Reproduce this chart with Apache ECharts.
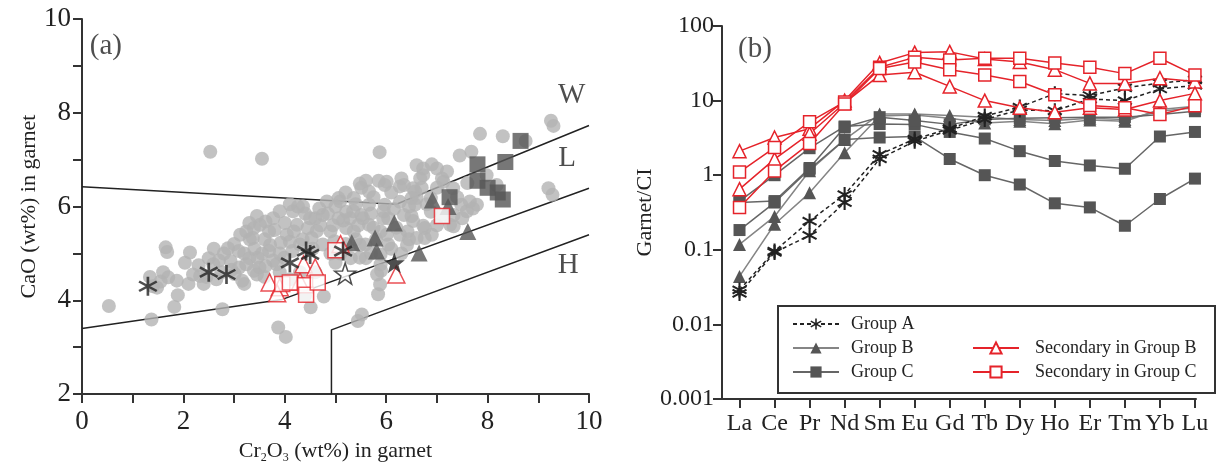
<!DOCTYPE html>
<html>
<head>
<meta charset="utf-8">
<script src="https://cdn.jsdelivr.net/npm/echarts@6.0.0/dist/echarts.min.js"></script>
<style>html,body{margin:0;padding:0;background:#fff;}#c{width:1221px;height:469px;}</style>
</head>
<body>
<div id="c"></div>
<script>
// ---------- Panel (a): CaO vs Cr2O3 ----------
const grayPts = [
[0.53,3.88],[1.37,3.59],[2.53,7.17],[3.55,7.02],[5.87,7.16],[3.87,3.42],[4.02,3.22],[4.51,3.85],[4.77,4.08],[5.44,3.56],[5.52,3.7],[2.77,3.81],[1.82,3.86],
[9.25,7.83],[9.3,7.72],[7.85,7.55],[8.3,7.5],[8.75,7.4],[7.45,7.09],[7.68,7.17],[9.2,6.39],[9.28,6.25],
[1.65,5.13],[1.68,5.03],[2.13,5.02],[2.6,5.1],[2.88,5.11],[2.03,4.8],[1.34,4.5],[1.4,4.3],[1.48,4.27],[1.7,4.49],[1.87,4.42],[1.89,4.11],[2.19,4.55],[2.33,4.52],
[2.45,4.5],[2.65,4.45],[2.75,4.6],[2.95,4.65],[3.1,4.7],[3.3,4.9],[3.2,4.35],[3.5,4.7],[3.55,5.0],
[2.59,4.77],[2.93,4.84],[3.09,5.05],[3.12,5.4],[3.24,5.47],[3.39,5.54],[3.31,5.3],[3.51,5.61],[3.62,5.68],[3.77,5.75],[3.69,5.47],[3.37,5.33],[3.71,5.18],
[3.92,5.23],[4.04,5.4],[4.16,5.9],[4.24,5.61],[4.26,6.0],[4.36,6.0],[4.18,5.47],[3.69,5.05],[3.46,4.91],[3.77,4.85],[3.24,4.77],[3.01,4.56],[3.16,4.42],
[3.45,4.55],[3.39,4.63],[3.62,4.73],[3.84,4.77],[3.99,4.91],[4.15,5.05],[4.3,5.19],[4.53,5.33],[4.45,5.54],[4.5,5.75],[4.6,5.75],[4.63,5.48],[4.68,5.96],
[4.75,5.82],[4.83,6.11],[5.06,6.18],[5.09,6.11],[5.21,5.89],[5.06,5.75],[4.9,5.47],[4.75,5.19],[4.98,5.26],[5.29,5.75],[5.36,6.18],[5.48,6.49],[5.51,6.4],
[5.66,6.32],[5.54,5.75],[5.94,5.75],[5.97,6.46],[6.01,6.53],[6.27,6.43],[6.35,6.46],[6.53,6.39],[6.57,6.32],[6.6,6.88],[6.73,6.67],[6.73,6.81],[7.0,6.81],
[6.67,6.6],[7.13,6.53],[7.32,6.39],[7.1,6.6],[7.98,6.67],[8.18,6.46],[6.6,6.18],[7.65,6.11],[7.59,5.9],[7.79,6.04],[7.48,6.04],[7.71,5.96],[6.53,5.69],
[6.73,5.59],[7.26,5.61],[7.33,5.58],[6.6,5.33],[6.76,5.33],[6.76,5.54],[7.33,5.82],[7.1,5.82],[6.88,5.89],[6.57,6.04],[6.27,6.1],[5.97,6.04],[5.66,6.04],
[5.51,5.82],[5.66,5.61],[5.89,5.47],[6.04,5.75],[6.35,5.82],[6.42,5.47],[6.27,5.4],[6.01,5.4],[6.41,5.18],[6.04,5.19],[5.59,5.19],[5.48,5.18],[5.36,5.47],
[5.21,5.54],[6.5,6.18],[6.88,6.18],[5.48,4.91],[5.82,4.55],[5.88,4.34],[5.84,4.13],[5.9,4.63],[5.89,4.77],[5.89,4.98],[4.4,4.1],[5.0,4.8],[5.3,4.9],
[5.6,4.9],[5.7,5.0],[5.2,5.2],[4.6,4.6],[4.3,4.6],[4.1,4.45],
[3.0,5.2],[3.2,5.0],[3.4,5.1],[3.6,5.3],[3.8,5.5],[3.9,5.0],[4.0,5.65],[4.1,5.25],[4.35,5.3],[4.4,5.85],[4.55,5.1],[4.7,5.6],[4.85,5.85],[4.95,5.6],
[5.0,6.0],[5.15,5.7],[5.2,6.3],[5.35,5.9],[5.4,6.05],[5.45,5.6],[5.6,6.55],[5.7,5.85],[5.75,6.2],[5.8,5.3],[5.85,6.55],[5.95,5.9],[6.1,6.3],[6.15,5.95],
[6.2,5.55],[6.3,6.6],[6.45,6.0],[6.5,5.8],[6.7,6.4],[6.8,6.05],[6.9,6.9],[7.0,6.4],[7.2,6.75],[7.4,6.2],[7.5,5.75],[7.6,6.5],[7.0,5.6],[6.9,5.4],
[2.3,4.75],[2.5,4.9],[2.7,4.85],[2.8,5.0],[2.1,4.35],[2.4,4.35],[1.55,4.4],[1.6,4.6],[3.45,5.8],[3.3,5.65],[3.9,5.9],[4.1,6.05],[4.9,5.0],[5.1,5.0],
[5.4,5.3],[5.75,5.55],[6.1,5.1],[6.3,5.0],[6.45,5.3],[3.6,4.5],[3.9,4.6]
];
const aGroupA = [[1.3,4.3],[2.5,4.6],[2.85,4.55],[4.1,4.8],[4.42,5.05],[4.5,4.98],[5.15,5.05]];
const aGroupB = [[5.32,5.23],[5.78,5.33],[5.81,5.05],[6.16,5.65],[6.65,5.01],[6.91,6.14],[7.22,6.0],[7.61,5.47]];
const aGroupC = [[7.25,6.2],[7.8,6.9],[8.35,6.95],[8.65,7.4],[7.8,6.55],[8.0,6.4],[8.2,6.3],[8.3,6.15]];
const aSecB = [[3.7,4.38],[3.9,4.28],[3.85,4.15],[4.3,4.4],[4.37,4.77],[4.6,4.7],[5.1,5.2],[6.2,4.55]];
const aSecC = [[3.95,4.35],[4.1,4.38],[4.4,4.32],[4.42,4.12],[4.65,4.38],[5.0,5.07],[7.1,5.8]];
const aStarFilled = [[6.16,4.8]];
const aStarOpen = [[5.19,4.57]];
const lineW = [[0,6.42],[6.2,6.05],[10,7.73]];
const lineL = [[0,3.4],[3.95,4.02],[10,6.39]];
const lineH = [[4.92,2],[4.92,3.37],[10,5.4]];
const aLabels = [[0.47,9.41,'(a)'],[9.66,8.37,'W'],[9.57,7.02,'L'],[9.59,4.74,'H']];

// ---------- Panel (b): REE patterns ----------
const ree = ['La','Ce','Pr','Nd','Sm','Eu','Gd','Tb','Dy','Ho','Er','Tm','Yb','Lu'];
const groupA1 = [0.029,0.096,0.243,0.55,1.9,3.05,4.2,6.2,8.2,12.4,11.7,14.8,17.2,19.0];
const groupA2 = [0.026,0.092,0.156,0.43,1.66,2.85,4.0,5.6,7.5,7.3,10.5,10.0,14.3,16.0];
const groupB1 = [0.118,0.28,1.15,3.0,6.6,6.6,6.3,6.0,5.6,5.4,5.8,5.6,7.2,8.0];
const groupB2 = [0.044,0.22,0.58,2.0,6.2,6.4,5.8,5.0,5.3,4.9,5.5,5.3,7.6,8.4];
const groupC1 = [0.184,0.43,1.2,3.0,3.2,3.3,1.65,1.0,0.75,0.42,0.37,0.21,0.48,0.9];
const groupC2 = [0.45,1.0,2.3,4.5,4.85,4.8,3.8,3.1,2.1,1.55,1.35,1.22,3.3,3.8];
const groupC3 = [0.43,0.45,1.25,4.4,6.0,5.4,4.8,5.6,5.8,5.9,6.0,6.0,6.5,7.2];
const secB1 = [2.1,3.2,4.2,10.0,32,44,45,36,33,26,17,17,20,18];
const secB2 = [0.65,1.64,3.6,9.3,22,24,15.5,10,8,7,8,7.6,10,12.5];
const secC1 = [1.1,2.35,5.2,9.6,28,38,35,37,37,32,28,23,37,22];
const secC2 = [0.37,1.14,2.67,9.0,27,33,26,22,18,12,8.6,8.0,6.5,8.5];
const bLabels = [[0.44,48,'(b)']];
const logTicks = [0.001,0.01,0.1,1,10,100];

const FONT = 'Liberation Serif';
const INK = '#222';
const RED = '#e5232a';
const ASTER = 'path://M-1.3,-10L1.3,-10L1.3,10L-1.3,10ZM8.01,-6.13L9.31,-3.87L-8.01,6.13L-9.31,3.87ZM-9.31,-3.87L-8.01,-6.13L9.31,3.87L8.01,6.13Z';
const STAR = 'path://M0,-10L2.35,-3.24L9.51,-3.09L3.8,1.24L5.88,8.09L0,4L-5.88,8.09L-3.8,1.24L-9.51,-3.09L-2.35,-3.24Z';

const idx = ree.map((_, i) => i);
const toPairs = arr => arr.map((v, i) => [i, v]);

function axisBase() {
  return {
    axisLine: {show: true, onZero: false, lineStyle: {color: '#333', width: 2}},
    axisTick: {show: true, inside: false, length: 9, lineStyle: {color: '#333', width: 2}},
    splitLine: {show: false}
  };
}

const series = [];
[lineW, lineL, lineH].forEach(d => series.push({
  type: 'line', xAxisIndex: 0, yAxisIndex: 0, data: d, showSymbol: false, symbol: 'none',
  lineStyle: {color: INK, width: 1.5}, z: 1, silent: true
}));
series.push({type: 'scatter', xAxisIndex: 0, yAxisIndex: 0, data: grayPts, symbol: 'circle', symbolSize: 14,
  itemStyle: {color: '#b3b3b3'}, z: 2, silent: true});
series.push({type: 'scatter', xAxisIndex: 0, yAxisIndex: 0, data: aGroupB, symbol: 'triangle', symbolSize: 17,
  itemStyle: {color: '#555'}, z: 3});
series.push({type: 'scatter', xAxisIndex: 0, yAxisIndex: 0, data: aGroupC, symbol: 'rect', symbolSize: 16,
  itemStyle: {color: '#555'}, z: 3});
series.push({type: 'scatter', xAxisIndex: 0, yAxisIndex: 0, data: aSecB, symbol: 'triangle', symbolSize: 17,
  itemStyle: {color: '#fff', borderColor: RED, borderWidth: 1.5}, z: 4});
series.push({type: 'scatter', xAxisIndex: 0, yAxisIndex: 0, data: aSecC, symbol: 'rect', symbolSize: 15,
  itemStyle: {color: '#fff', borderColor: RED, borderWidth: 1.5}, z: 4});
series.push({type: 'scatter', xAxisIndex: 0, yAxisIndex: 0, data: aGroupA, symbol: ASTER, symbolSize: 19,
  itemStyle: {color: INK}, z: 5});
series.push({type: 'scatter', xAxisIndex: 0, yAxisIndex: 0, data: aStarFilled, symbol: STAR, symbolSize: 21,
  itemStyle: {color: INK}, z: 5});
series.push({type: 'scatter', xAxisIndex: 0, yAxisIndex: 0, data: aStarOpen, symbol: STAR, symbolSize: 21,
  itemStyle: {color: '#fff', borderColor: INK, borderWidth: 1.5}, z: 5});
series.push({type: 'scatter', xAxisIndex: 0, yAxisIndex: 0, data: aLabels, symbolSize: 0, silent: true, z: 6,
  label: {show: true, position: 'inside', formatter: p => p.data[2], fontFamily: FONT, fontSize: 29, color: INK}});

function reeLine(name, arr, opt) {
  return Object.assign({
    name: name, type: 'line', xAxisIndex: 1, yAxisIndex: 1, data: toPairs(arr), showSymbol: true
  }, opt);
}
const gB = {symbol: 'triangle', symbolSize: 13, lineStyle: {color: '#858585', width: 1.5}, itemStyle: {color: '#555'}, z: 3};
const gC = {symbol: 'rect', symbolSize: 12, lineStyle: {color: '#666', width: 1.5}, itemStyle: {color: '#555'}, z: 3};
const gA = {symbol: ASTER, symbolSize: 15, lineStyle: {color: INK, width: 1.5, type: [4, 3]}, itemStyle: {color: INK}, z: 4};
const sB = {symbol: 'triangle', symbolSize: 13, lineStyle: {color: RED, width: 1.5}, itemStyle: {color: '#fff', borderColor: RED, borderWidth: 1.5}, z: 5};
const sC = {symbol: 'rect', symbolSize: 12, lineStyle: {color: RED, width: 1.5}, itemStyle: {color: '#fff', borderColor: RED, borderWidth: 1.5}, z: 5};
series.push(reeLine('Group B', groupB1, gB));
series.push(reeLine('Group B', groupB2, gB));
series.push(reeLine('Group C', groupC1, gC));
series.push(reeLine('Group C', groupC2, gC));
series.push(reeLine('Group C', groupC3, gC));
series.push(reeLine('Group A', groupA1, gA));
series.push(reeLine('Group A', groupA2, gA));
series.push(reeLine('Secondary in Group B', secB1, sB));
series.push(reeLine('Secondary in Group B', secB2, sB));
series.push(reeLine('Secondary in Group C', secC1, sC));
series.push(reeLine('Secondary in Group C', secC2, sC));
series.push({type: 'scatter', xAxisIndex: 1, yAxisIndex: 1, data: bLabels, symbolSize: 0, silent: true, z: 6,
  label: {show: true, position: 'inside', formatter: p => p.data[2], fontFamily: FONT, fontSize: 29, color: INK}});

const legendText = {fontFamily: FONT, fontSize: 18, color: INK};

const option = {
  animation: false,
  backgroundColor: '#fff',
  grid: [
    {left: 82, top: 19, width: 507, height: 379},
    {left: 722, top: 26, width: 474, height: 373}
  ],
  xAxis: [
    Object.assign(axisBase(), {
      gridIndex: 0, type: 'value', min: 0, max: 10, interval: 1,
      axisLabel: {fontFamily: FONT, fontSize: 27, color: INK, margin: 14, formatter: v => (v % 2 === 0 ? String(v) : '')},
      name: 'Cr{s|2}O{s|3} (wt%) in garnet', nameLocation: 'middle', nameGap: 41,
      nameTextStyle: {fontFamily: FONT, fontSize: 22, color: INK,
        rich: {s: {fontFamily: FONT, fontSize: 12, color: INK, verticalAlign: 'bottom', padding: [0, 0, -2, 0]}}}
    }),
    Object.assign(axisBase(), {
      gridIndex: 1, type: 'value', min: -0.5, max: 13.03,
      axisTick: {show: true, length: 9, lineStyle: {color: '#333', width: 2}, customValues: idx},
      axisLabel: {fontFamily: FONT, fontSize: 24, color: INK, margin: 13, customValues: idx, formatter: v => ree[Math.round(v)] || ''}
    })
  ],
  yAxis: [
    Object.assign(axisBase(), {
      gridIndex: 0, type: 'value', min: 2, max: 10, interval: 1,
      axisLabel: {fontFamily: FONT, fontSize: 27, color: INK, margin: 11, formatter: v => (v % 2 === 0 ? String(v) : '')},
      name: 'CaO (wt%) in garnet', nameLocation: 'middle', nameGap: 42, nameRotate: 90,
      nameTextStyle: {fontFamily: FONT, fontSize: 22, color: INK}
    }),
    Object.assign(axisBase(), {
      gridIndex: 1, type: 'log', logBase: 10, min: 0.001, max: 100,
      axisTick: {show: true, length: 9, lineStyle: {color: '#333', width: 2}, customValues: logTicks},
      axisLabel: {fontFamily: FONT, fontSize: 24, color: INK, margin: 8, customValues: logTicks,
        formatter: v => { const m = {0.001:'0.001',0.01:'0.01',0.1:'0.1',1:'1',10:'10',100:'100'}; return m[+(+v).toPrecision(3)] || String(v); }},
      name: 'Garnet/CI', nameLocation: 'middle', nameGap: 47, nameRotate: 90,
      nameTextStyle: {fontFamily: FONT, fontSize: 22, color: INK}
    })
  ],
  legend: [
    {data: ['Group A', 'Group B', 'Group C'], orient: 'vertical', left: 787, top: 310,
      itemWidth: 46, itemHeight: 14, itemGap: 6, textStyle: Object.assign({padding: [0, 0, 0, 7]}, legendText), selectedMode: false},
    {data: ['Secondary in Group B', 'Secondary in Group C'], orient: 'vertical', left: 967, top: 334,
      itemWidth: 46, itemHeight: 14, itemGap: 6, textStyle: Object.assign({padding: [0, 0, 0, 11]}, legendText), selectedMode: false}
  ],
  graphic: [
    {type: 'rect', left: 777, top: 305, z: 0, silent: true,
      shape: {width: 437, height: 87}, style: {fill: '#fff', stroke: '#333', lineWidth: 2}}
  ],
  series: series
};

const chart = echarts.init(document.getElementById('c'), null, {renderer: 'canvas'});
chart.setOption(option);
</script>
</body>
</html>
